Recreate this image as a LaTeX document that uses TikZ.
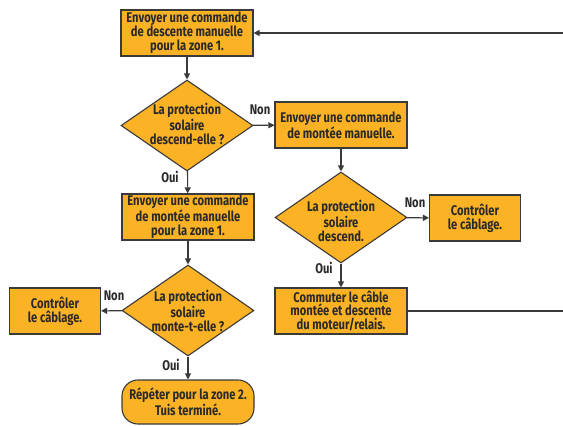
\documentclass[tikz,border=0pt]{standalone}
\usepackage{fontspec}
\setmainfont[FakeStretch=0.8]{Fira Sans}
\usetikzlibrary{shapes.geometric,arrows.meta}
\definecolor{boxfill}{HTML}{FBB225}
\definecolor{boxline}{HTML}{3A3A3A}
\definecolor{txt}{HTML}{2A2A2A}
\tikzset{
  every node/.style={font=\bfseries\fontsize{14}{13.8}\selectfont, text=txt},
  procbox/.style={draw=boxline, line width=1.1pt, fill=boxfill, minimum width=132pt, minimum height=46pt, inner sep=0pt, align=center},
  smallbox/.style={draw=boxline, line width=1.1pt, fill=boxfill, minimum width=91pt, minimum height=46pt, inner sep=0pt, align=center},
  diam/.style={draw=boxline, line width=1.1pt, fill=boxfill, diamond, minimum width=132pt, minimum height=91pt, inner sep=0pt},
  dtext/.style={align=center, inner sep=0pt},
  term/.style={draw=boxline, line width=1.1pt, fill=boxfill, rounded corners=16pt, minimum width=132pt, minimum height=44pt, inner sep=0pt, align=center},
  lbl/.style={inner sep=0pt},
  conn/.style={draw=boxline, line width=1.1pt, -{Triangle[length=6pt,width=6pt]}},
}
\begin{document}
\begin{tikzpicture}[x=1pt,y=-1pt]
\useasboundingbox (0,0) rectangle (563,426);
% left column
\node[procbox] (b1) at (187,33) {Envoyer une commande\\de descente manuelle\\pour la zone 1.};
\node[diam] (d1) at (187,125.5) {};
\node[dtext] (d1t) at (187,124) {La protection\\solaire\\descend-elle ?};
\node[procbox] (b3) at (188,217) {Envoyer une commande\\de montée manuelle\\pour la zone 1.};
\node[diam] (d3) at (188,310.5) {};
\node[dtext] (d3t) at (188,311) {La protection\\solaire\\monte-t-elle ?};
\node[smallbox] (c3) at (55,311) {Contrôler\\le câblage.};
\node[term] (t) at (188,402) {Répéter pour la zone 2.\\Tuis terminé.};
% right column
\node[procbox] (b2) at (341,125) {Envoyer une commande\\de montée manuelle.};
\node[diam] (d2) at (341,217.5) {};
\node[dtext] (d2t) at (341,221) {\fontsize{14}{15}\selectfont La protection\\solaire\\descend.};
\node[smallbox] (c2) at (475,218) {Contrôler\\le câblage.};
\node[procbox] (b4) at (341,311) {Commuter le câble\\montée et descente\\du moteur/relais.};
% labels
\node[lbl] (n1) at (260,110) {Non};
\node[lbl] (o1) at (170,177) {Oui};
\node[lbl] (n2) at (415,203) {Non};
\node[lbl] (o2) at (324,268) {Oui};
\node[lbl] (n3) at (114,296) {Non};
\node[lbl] (o3) at (171,365) {Oui};
% connectors
\coordinate (r1) at (575,311);
\coordinate (r2) at (575,33);
\draw[conn] (b1) -- (d1);
\draw[conn] (d1) -- (b2);
\draw[conn] (d1) -- (b3);
\draw[conn] (b3) -- (d3);
\draw[conn] (d3) -- (c3);
\draw[conn] (d3) -- (t);
\draw[conn] (b2) -- (d2);
\draw[conn] (d2) -- (c2);
\draw[conn] (d2) -- (b4);
\draw[conn] (b4.east) -- (r1) -- (r2) -- (b1.east);
\end{tikzpicture}
\end{document}
